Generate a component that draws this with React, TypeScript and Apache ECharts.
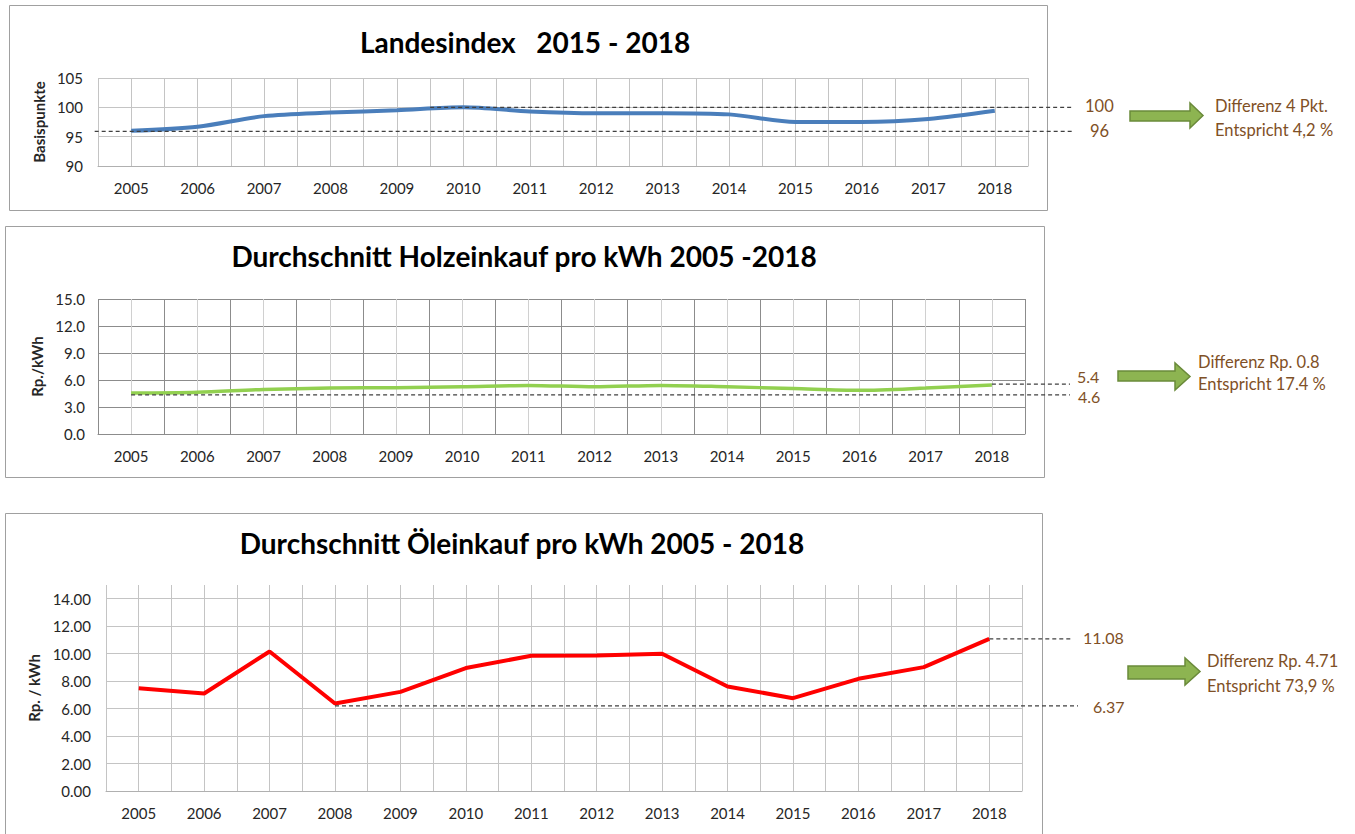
import React, { useEffect, useRef } from "react";
import * as echarts from "echarts";

const years = [2005, 2006, 2007, 2008, 2009, 2010, 2011, 2012, 2013, 2014, 2015, 2016, 2017, 2018];
const landesindex = [96.0, 96.7, 98.5, 99.1, 99.5, 100.0, 99.3, 99.0, 99.0, 98.8, 97.5, 97.5, 98.0, 99.4];
const holz = [4.55, 4.65, 4.95, 5.1, 5.15, 5.25, 5.4, 5.25, 5.4, 5.25, 5.05, 4.85, 5.1, 5.45];
const oel = [7.49, 7.1, 10.16, 6.37, 7.22, 8.95, 9.85, 9.87, 9.99, 7.61, 6.76, 8.17, 9.02, 11.08];

const landesRef = [100, 95.9];
const holzRef = [5.55, 4.35];
const oelRef = [11.08, 6.2];
const landesRefLabels = ["100", "96"];
const holzRefLabels = ["5.4", "4.6"];
const oelRefLabels = ["11.08", "6.37"];

const titles = [
  "Landesindex   2015 - 2018",
  "Durchschnitt Holzeinkauf pro kWh 2005 -2018",
  "Durchschnitt Öleinkauf pro kWh 2005 - 2018",
];
const yTitles = ["Basispunkte", "Rp./kWh", "Rp. / kWh"];
const notes = [
  ["Differenz 4 Pkt.", "Entspricht 4,2 %"],
  ["Differenz Rp. 0.8", "Entspricht 17.4 %"],
  ["Differenz Rp. 4.71", "Entspricht 73,9 %"],
];

const FONT = "Lato, 'Open Sans', sans-serif";
const TXT = "#262626";
const BROWN = "#7f5026";
const AX = 15;
const NOTE = 16.5;

const isInt = (v: number) => Math.abs(v - Math.round(v)) < 1e-6;

function xAxisFor(gi: number, splitColor: any, lineColor: string) {
  return {
    type: "value",
    gridIndex: gi,
    min: 2004.5,
    max: 2018.5,
    interval: 0.5,
    axisTick: { show: false },
    axisLine: { show: true, lineStyle: { color: lineColor, width: 1 } },
    axisLabel: {
      formatter: (v: number) => (isInt(v) ? String(Math.round(v)) : ""),
      color: TXT,
      fontSize: AX,
      fontFamily: FONT,
      margin: 14,
    },
    splitLine: { show: true, lineStyle: { color: splitColor, width: 1 } },
  };
}

export default function App() {
  const ref = useRef<HTMLDivElement>(null);
  useEffect(() => {
    if (!ref.current) return;
    const chart = echarts.init(ref.current, undefined, { renderer: "svg" });
    const tStyle = { fontFamily: FONT, fontSize: 28, fontWeight: "bold", color: "#000" };
    const nStyle = { fontFamily: FONT, fontSize: 15, fontWeight: "bold", color: TXT };
    const option: any = {
      animation: false,
      backgroundColor: "#ffffff",
      title: [
        { text: titles[0], left: 525, top: 28, textAlign: "center", padding: 0, textStyle: tStyle },
        { text: titles[1], left: 524, top: 242, textAlign: "center", padding: 0, textStyle: tStyle },
        { text: titles[2], left: 522, top: 529, textAlign: "center", padding: 0, textStyle: tStyle },
      ],
      grid: [
        { left: 98, top: 78, width: 930, height: 88 },
        { left: 98, top: 299, width: 927, height: 135 },
        { left: 106, top: 585, width: 916, height: 206 },
      ],
      xAxis: [
        xAxisFor(0, "#c4c4c4", "#b0b0b0"),
        xAxisFor(1, ["#8c8c8c", "#d0d0d0"], "#8c8c8c"),
        xAxisFor(2, "#c4c4c4", "#b0b0b0"),
      ],
      yAxis: [
        {
          type: "value", gridIndex: 0, min: 90, max: 105, interval: 5,
          axisLine: { show: false }, axisTick: { show: false },
          axisLabel: { color: TXT, fontSize: AX, fontFamily: FONT, margin: 15 },
          splitLine: { lineStyle: { color: "#c4c4c4" } },
          name: yTitles[0], nameLocation: "middle", nameGap: 52, nameTextStyle: nStyle,
        },
        {
          type: "value", gridIndex: 1, min: 0, max: 15, interval: 3,
          axisLine: { show: false }, axisTick: { show: false },
          axisLabel: { color: TXT, fontSize: AX, fontFamily: FONT, margin: 13, formatter: (v: number) => v.toFixed(1) },
          splitLine: { lineStyle: { color: "#8c8c8c" } },
          name: yTitles[1], nameLocation: "middle", nameGap: 52, nameTextStyle: nStyle,
        },
        {
          type: "value", gridIndex: 2, min: 0, max: 15, interval: 2,
          axisLine: { show: false }, axisTick: { show: false },
          axisLabel: { color: TXT, fontSize: AX, fontFamily: FONT, margin: 15, showMaxLabel: false, formatter: (v: number) => (v > 14.5 ? "" : v.toFixed(2)) },
          splitLine: { showMaxLine: false, lineStyle: { color: "#c4c4c4" } },
          name: yTitles[2], nameLocation: "middle", nameGap: 60, nameTextStyle: nStyle,
        },
      ],
      series: [
        {
          type: "line", xAxisIndex: 0, yAxisIndex: 0, smooth: 0.3, showSymbol: false,
          data: years.map((y, i) => [y, landesindex[i]]),
          lineStyle: { color: "#4a7ebb", width: 4 }, itemStyle: { color: "#4a7ebb" }, z: 5,
        },
        {
          type: "line", xAxisIndex: 1, yAxisIndex: 1, smooth: 0.3, showSymbol: false,
          data: years.map((y, i) => [y, holz[i]]),
          lineStyle: { color: "#92d050", width: 3.5 }, itemStyle: { color: "#92d050" }, z: 5,
        },
        {
          type: "line", xAxisIndex: 2, yAxisIndex: 2, smooth: false, showSymbol: false,
          data: years.map((y, i) => [y, oel[i]]),
          lineStyle: { color: "#ff0000", width: 4 }, itemStyle: { color: "#ff0000" }, z: 5,
        },
      ],
    };
    chart.setOption(option);

    const px = (si: number, x: number, y: number) => chart.convertToPixel({ seriesIndex: si }, [x, y]) as number[];
    const dash = (x1: number, y1: number, x2: number, y2: number) => ({
      type: "line", z: 10, silent: true,
      shape: { x1, y1, x2, y2 },
      style: { stroke: "#404040", lineWidth: 1.2, lineDash: [4, 3] },
    });
    const label = (text: string, x: number, y: number, size = 16) => ({
      type: "text", z: 10, x, y,
      style: { text, fill: BROWN, fontSize: size, fontFamily: FONT, verticalAlign: "middle", align: "left" },
    });
    const arrow = (x0: number, x1: number, xh: number, y0: number, y1: number, s0: number, s1: number) => ({
      type: "polygon", z: 10,
      shape: { points: [[x0, s0], [xh, s0], [xh, y0], [x1, (y0 + y1) / 2], [xh, y1], [xh, s1], [x0, s1]] },
      style: { fill: "#8db451", stroke: "#6a8a3a", lineWidth: 1.5 },
    });
    const box = (x: number, y: number, w: number, h: number) => ({
      type: "rect", z: -10, silent: true,
      shape: { x: x + 0.5, y: y + 0.5, width: w, height: h },
      style: { fill: "none", stroke: "#a0a0a0", lineWidth: 1 },
    });

    const g: any[] = [box(9, 5, 1038, 205), box(5, 226, 1039, 251), box(5, 513, 1037, 340)];

    // Panel 1
    const a1 = px(0, 2009.5, landesRef[0]);
    const b1 = px(0, 2004.45, landesRef[1]);
    g.push(dash(a1[0], a1[1], 1073, a1[1]), dash(b1[0], b1[1], 1073, b1[1]));
    g.push(label(landesRefLabels[0], 1085, a1[1] - 1, 16.5), label(landesRefLabels[1], 1090, b1[1], 16.5));
    g.push(arrow(1130, 1203, 1190, 103, 128, 111, 121));
    g.push(label(notes[0][0], 1215, 106, NOTE), label(notes[0][1], 1215, 130, NOTE));

    // Panel 2
    const a2 = px(1, 2018, holzRef[0]);
    const b2 = px(1, 2005, holzRef[1]);
    g.push(dash(a2[0], a2[1], 1070, a2[1]), dash(b2[0], b2[1], 1070, b2[1]));
    g.push(label(holzRefLabels[0], 1077, a2[1] - 8, 16), label(holzRefLabels[1], 1078, b2[1] + 2, 16));
    g.push(arrow(1118, 1190, 1175, 363, 390, 371, 381));
    g.push(label(notes[1][0], 1198, 362, NOTE), label(notes[1][1], 1198, 384, NOTE));

    // Panel 3
    const a3 = px(2, 2018, oelRef[0]);
    const b3 = px(2, 2008, oelRef[1]);
    g.push(dash(a3[0], a3[1], 1073, a3[1]), dash(b3[0], b3[1], 1078, b3[1]));
    g.push(label(oelRefLabels[0], 1083, a3[1] - 1, 16), label(oelRefLabels[1], 1093, b3[1] + 1, 16));
    g.push(arrow(1128, 1200, 1185, 658, 685, 666, 679));
    g.push(label(notes[2][0], 1207, 661, NOTE), label(notes[2][1], 1207, 686, NOTE));

    chart.setOption({ graphic: g });

    return () => chart.dispose();
  }, []);
  return <div ref={ref} style={{ position: "absolute", left: 0, top: 0, width: 1355, height: 834 }} />;
}
